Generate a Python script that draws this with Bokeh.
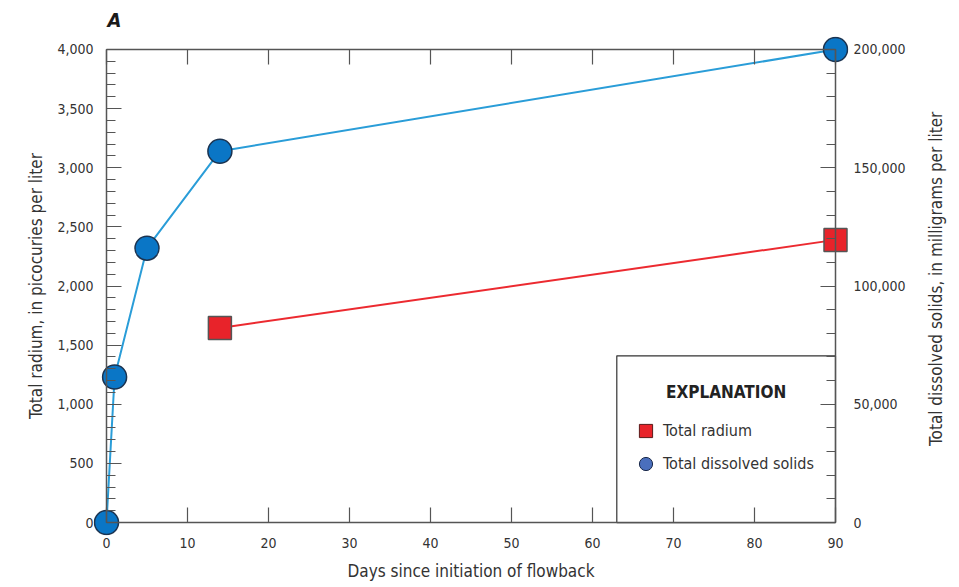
import math
from bokeh.plotting import figure
from bokeh.layouts import row
from bokeh.models import (LinearAxis, Range1d, SingleIntervalTicker, NumeralTickFormatter,
                          BoxAnnotation, Label, Legend, LegendItem, ColumnDataSource, Title)
from bokeh.embed import file_html
from bokeh.resources import INLINE

# Data
tds_days = [0, 1, 5, 14, 90]
tds_values = [0, 61500, 116000, 157000, 200000]   # mg/L (right axis)
ra_days = [14, 90]
ra_values = [1645, 2390]                           # pCi/L (left axis)

X_MAX, Y_MAX, TDS_MAX = 90, 4000, 200000

FONT = "DejaVu Sans Condensed"
TXT = "#333333"
AX = "#555555"

# plot geometry (pixels)
W, H = 920, 587          # main figure; a 30px strip to its right holds the right-axis title
STRIP = 30
FL, FR, FT, FB = 106, 835, 48, 522   # data-area edges
PAD = 13
xpad = PAD * X_MAX / (FR - FL)
ypad = PAD * Y_MAX / (FB - FT)
tpad = PAD * TDS_MAX / (FB - FT)

p = figure(width=W, height=H, output_backend="svg", toolbar_location=None,
           x_range=Range1d(-xpad, X_MAX + xpad), y_range=Range1d(-ypad, Y_MAX + ypad),
           min_border_left=FL - PAD, min_border_right=W - FR - PAD,
           min_border_top=FT - PAD, min_border_bottom=H - FB - PAD,
           x_axis_location=None, y_axis_location=None)
p.extra_y_ranges = {"tds": Range1d(-tpad, TDS_MAX + tpad)}
p.xgrid.visible = False
p.ygrid.visible = False
p.outline_line_color = None

def line_axis(ax):
    ax.axis_line_color = AX
    ax.axis_line_width = 1.5
    ax.major_tick_line_color = AX
    ax.minor_tick_line_color = AX
    ax.major_tick_line_width = 1.2
    ax.minor_tick_line_width = 1.2
    ax.major_tick_out = 0
    ax.minor_tick_out = 0
    ax.major_tick_in = 15
    ax.minor_tick_in = 9
    ax.major_label_text_font_size = "0px"
    ax.major_label_standoff = 0
    return ax

def label_axis(ax, standoff, title_standoff):
    ax.axis_line_color = None
    ax.major_tick_line_color = None
    ax.minor_tick_line_color = None
    ax.major_tick_out = 0
    ax.major_tick_in = 0
    ax.minor_tick_out = 0
    ax.minor_tick_in = 0
    ax.major_label_text_font = FONT
    ax.major_label_text_font_size = "14px"
    ax.major_label_text_color = TXT
    ax.major_label_standoff = standoff
    ax.axis_label_text_font = FONT
    ax.axis_label_text_font_size = "17px"
    ax.axis_label_text_font_style = "normal"
    ax.axis_label_text_color = TXT
    ax.axis_label_standoff = title_standoff
    return ax

fmt = NumeralTickFormatter(format="0,0")

# axis lines and ticks, at the data edges
p.add_layout(line_axis(LinearAxis(ticker=SingleIntervalTicker(interval=500, num_minor_ticks=5),
                                  fixed_location=0, bounds=(0, Y_MAX))), "left")
p.add_layout(line_axis(LinearAxis(y_range_name="tds",
                                  ticker=SingleIntervalTicker(interval=50000, num_minor_ticks=5),
                                  fixed_location=X_MAX, bounds=(0, TDS_MAX))), "right")
p.add_layout(line_axis(LinearAxis(ticker=SingleIntervalTicker(interval=10, num_minor_ticks=0),
                                  fixed_location=0, bounds=(0, X_MAX))), "below")
p.add_layout(line_axis(LinearAxis(ticker=SingleIntervalTicker(interval=10, num_minor_ticks=0),
                                  fixed_location=Y_MAX, bounds=(0, X_MAX))), "above")

# tick labels and titles
p.add_layout(label_axis(LinearAxis(ticker=SingleIntervalTicker(interval=500), formatter=fmt,
                                   axis_label="Total radium, in picocuries per liter",
                                   bounds=(0, Y_MAX)), 0, 8), "left")
p.add_layout(label_axis(LinearAxis(y_range_name="tds", ticker=SingleIntervalTicker(interval=50000),
                                   formatter=fmt, bounds=(0, TDS_MAX)), 5, 0), "right")
p.add_layout(label_axis(LinearAxis(ticker=SingleIntervalTicker(interval=10),
                                   axis_label="Days since initiation of flowback",
                                   bounds=(0, X_MAX)), 2, 10), "below")

p.title = Title(text="A", align="left", offset=14, text_font=FONT, text_font_size="20px",
                text_font_style="bold italic", text_color="#1a1a1a", standoff=10)

# Legend box
box = BoxAnnotation(left=63, right=X_MAX, bottom=0, top=1410, fill_color="white", fill_alpha=1,
                    line_color="#333333", line_alpha=1, line_width=1.2, level="underlay")
p.add_layout(box)

# Series
p.line(tds_days, tds_values, y_range_name="tds", line_color="#2a9dd8", line_width=2)
p.scatter(tds_days, tds_values, y_range_name="tds", marker="circle", size=24,
          fill_color="#0a76c6", line_color="#1b3350", line_width=1.5)
p.line(ra_days, ra_values, line_color="#ec2a30", line_width=2)
p.scatter(ra_days, ra_values, marker="square", size=23,
          fill_color="#e8232a", line_color="#555555", line_width=1.5)

# Legend entries
nan = float("nan")
lr = p.scatter("x", "y", source=ColumnDataSource(data=dict(x=[nan], y=[nan])), marker="square",
               fill_color="#e8232a", line_color="#5a1a1a", line_width=1)
lb = p.scatter("x", "y", source=ColumnDataSource(data=dict(x=[nan], y=[nan])), marker="circle",
               fill_color="#4a6fbd", line_color="#1b2a4a", line_width=1)
GH = 33
leg = Legend(items=[LegendItem(label="Total radium", renderers=[lr]),
                    LegendItem(label="Total dissolved solids", renderers=[lb])],
             location=(645 - (FL - PAD) - GH // 2, (FB + PAD) - 464 - GH // 2), orientation="vertical",
             padding=0, margin=0, spacing=0, glyph_width=GH, glyph_height=GH,
             label_height=GH, label_standoff=1,
             label_text_font=FONT, label_text_font_size="16px", label_text_color=TXT,
             border_line_color=None, background_fill_alpha=0)
p.add_layout(leg)

p.add_layout(Label(x=76.5, y=1105, text="EXPLANATION", text_align="center", text_baseline="middle",
                   text_font=FONT, text_font_size="17px", text_font_style="bold", text_color="#222222"))

# strip for the right-axis title (reads bottom to top)
p2 = figure(width=STRIP, height=H, output_backend="svg", toolbar_location=None,
            x_range=Range1d(0, STRIP), y_range=Range1d(0, H), min_border=0,
            x_axis_location=None, y_axis_location=None)
p2.xgrid.visible = False
p2.ygrid.visible = False
p2.outline_line_color = None
p2.add_layout(Label(x=935 - W, y=H - (FT + FB) / 2, text="Total dissolved solids, in milligrams per liter",
                    angle=math.pi / 2, text_align="center", text_baseline="middle",
                    text_font=FONT, text_font_size="17px", text_color=TXT))

open("out.html", "w").write(file_html(row(p, p2, spacing=0), INLINE))
